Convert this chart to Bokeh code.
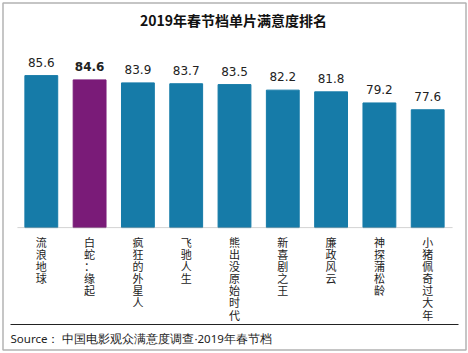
from bokeh.plotting import figure
from bokeh.models import ColumnDataSource, Range1d, FactorRange, Label, BoxAnnotation
from bokeh.core.properties import field, value
from bokeh.embed import file_html
from bokeh.resources import INLINE

films = ["流浪地球", "白蛇：缘起", "疯狂的外星人", "飞驰人生", "熊出没原始时代",
         "新喜剧之王", "廉政风云", "神探蒲松龄", "小猪佩奇过大年"]
scores = [85.6, 84.6, 83.9, 83.7, 83.5, 82.2, 81.8, 79.2, 77.6]
score_labels = ["85.6", "84.6", "83.9", "83.7", "83.5", "82.2", "81.8", "79.2", "77.6"]
highlight = "白蛇：缘起"
baseline = 50

BLUE = "#167BA8"
PURPLE = "#7A1B78"

colors = [PURPLE if f == highlight else BLUE for f in films]
styles = ["bold" if f == highlight else "normal" for f in films]
vertical = ["\n".join(f) for f in films]
bases = [baseline] * len(films)

src = ColumnDataSource(dict(films=films, scores=scores, labels=score_labels,
                            colors=colors, styles=styles, vertical=vertical,
                            bases=bases))

p = figure(x_range=FactorRange(factors=films, range_padding=0.345,
                               range_padding_units="absolute"),
           y_range=Range1d(20.5, 103.2), width=468, height=353,
           output_backend="svg", toolbar_location=None,
           min_border_left=0, min_border_right=0, min_border_top=0,
           min_border_bottom=0, outline_line_color=None)

p.vbar(x="films", top="scores", bottom=baseline, width=0.68, color="colors", source=src)
p.text(x="films", y="scores", text="labels", source=src, y_offset=-9,
       text_align="center", text_baseline="bottom", text_font_size="12px",
       text_font=value("DejaVu Sans"), text_color="#222222",
       text_font_style=field("styles"))
p.text(x="films", y="bases", text="vertical", source=src, y_offset=6,
       text_align="center", text_baseline="top", text_font_size="11px",
       text_font=value("Noto Sans CJK SC"), text_color="#222222",
       text_line_height=0.76)
# category axis line
p.add_layout(BoxAnnotation(left=17, right=452, left_units="screen", right_units="screen",
                           bottom=baseline, top=baseline, fill_color=None,
                           line_color="#AAAAAA", line_width=1))

p.axis.visible = False
p.grid.visible = False

p.add_layout(Label(x=233, y=334, x_units="screen", y_units="screen",
                   text="2019年春节档单片满意度排名", text_align="center",
                   text_font="Noto Sans CJK SC", text_font_size="14px",
                   text_font_style="bold", text_baseline="middle", text_color="#111111"))
p.add_layout(Label(x=10, y=15, x_units="screen", y_units="screen",
                   text="Source：  中国电影观众满意度调查·2019年春节档",
                   text_font="Noto Sans", text_font_size="11.5px",
                   text_baseline="middle", text_color="#222222"))
p.add_layout(BoxAnnotation(left=10, right=458, top=29.5, bottom=28.5,
                           left_units="screen", right_units="screen",
                           top_units="screen", bottom_units="screen",
                           fill_color="#222222", fill_alpha=1, line_color=None))
p.add_layout(BoxAnnotation(left=2.5, right=465.5, top=350.5, bottom=3.5,
                           left_units="screen", right_units="screen",
                           top_units="screen", bottom_units="screen",
                           fill_color=None, line_color="black", line_width=1.5))

open("out.html", "w").write(file_html(p, INLINE))
